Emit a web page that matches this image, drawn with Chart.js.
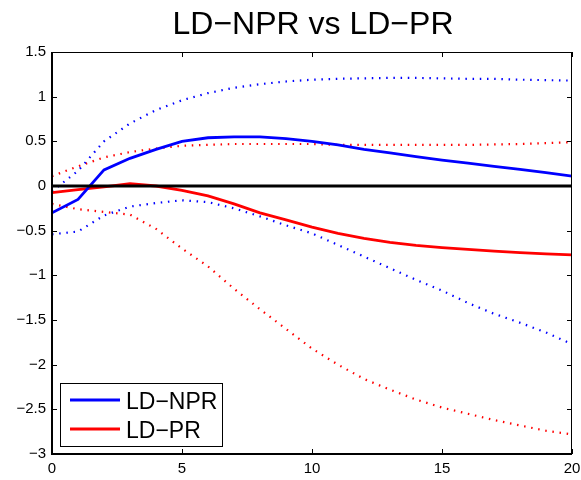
<!DOCTYPE html>
<html>
<head>
<meta charset="utf-8">
<script src="https://cdn.jsdelivr.net/npm/chart.js@4"></script>
<style>
  html, body { margin: 0; padding: 0; background: #fff; }
  #wrap { width: 581px; height: 480px; position: relative; }
</style>
</head>
<body>
<div id="wrap"><canvas id="irf"></canvas></div>
<script>
const TITLE = 'LD\u2212NPR vs LD\u2212PR';
const steps = [0, 1, 2, 3, 4, 5, 6, 7, 8, 9, 10, 11, 12, 13, 14, 15, 16, 17, 18, 19, 20];

// LD-NPR response with bands
const nprMid   = [-0.30, -0.15, 0.18, 0.31, 0.41, 0.50, 0.54, 0.55, 0.55, 0.53, 0.50, 0.46, 0.41, 0.37, 0.33, 0.29, 0.255, 0.22, 0.185, 0.15, 0.11];
const nprUpper = [-0.06, 0.17, 0.50, 0.70, 0.85, 0.96, 1.04, 1.10, 1.14, 1.17, 1.19, 1.20, 1.205, 1.21, 1.21, 1.205, 1.20, 1.20, 1.19, 1.185, 1.18];
const nprLower = [-0.54, -0.51, -0.33, -0.23, -0.19, -0.16, -0.18, -0.25, -0.34, -0.44, -0.53, -0.66, -0.79, -0.92, -1.05, -1.17, -1.31, -1.43, -1.53, -1.64, -1.77];

// LD-PR response with bands
const prMid   = [-0.075, -0.04, -0.01, 0.025, 0.0, -0.05, -0.11, -0.20, -0.30, -0.38, -0.46, -0.53, -0.585, -0.63, -0.665, -0.69, -0.71, -0.73, -0.745, -0.76, -0.77];
const prUpper = [0.11, 0.22, 0.32, 0.38, 0.42, 0.45, 0.46, 0.47, 0.47, 0.47, 0.47, 0.46, 0.46, 0.46, 0.46, 0.46, 0.46, 0.465, 0.47, 0.48, 0.49];
const prLower = [-0.20, -0.26, -0.29, -0.32, -0.48, -0.70, -0.90, -1.15, -1.38, -1.60, -1.82, -2.00, -2.16, -2.28, -2.39, -2.48, -2.55, -2.62, -2.68, -2.74, -2.78];

const zeroLine = [0, 0, 0, 0, 0, 0, 0, 0, 0, 0, 0, 0, 0, 0, 0, 0, 0, 0, 0, 0, 0];

const xTicks = [0, 5, 10, 15, 20];
const yTicks = [1.5, 1, 0.5, 0, -0.5, -1, -1.5, -2, -2.5, -3];

const FONT = "'Liberation Sans', Arial, Helvetica, sans-serif";
const BLUE = '#0000ff';
const RED = '#ff0000';

function pts(ys) {
    return steps.map((x, i) => ({ x: x, y: ys[i] }));
}

function solid(label, ys, color, width) {
    return { label, data: pts(ys), borderColor: color, borderWidth: width,
             pointRadius: 0, tension: 0, fill: false, showInLegend: true };
}

function dotted(ys, color) {
    return { label: '', data: pts(ys), borderColor: color, borderWidth: 2.2,
             borderDash: [1.5, 5.7], borderCapStyle: 'butt',
             pointRadius: 0, tension: 0, fill: false };
}

// Title centered over the axes, like matlab does
const axesTitle = {
    id: 'axesTitle',
    afterDraw(chart) {
        const { ctx, chartArea } = chart;
        ctx.save();
        ctx.fillStyle = '#000';
        ctx.font = `32px ${FONT}`;
        ctx.textAlign = 'center';
        ctx.textBaseline = 'alphabetic';
        ctx.fillText(TITLE, (chartArea.left + chartArea.right) / 2 + 1, 34);
        ctx.restore();
    }
};

// Box round the axes + inward tick marks on all four sides
const axesBox = {
    id: 'axesBox',
    afterDatasetsDraw(chart) {
        const { ctx, chartArea: a, scales } = chart;
        ctx.save();
        ctx.strokeStyle = '#000';
        ctx.lineWidth = 1;
        const len = 5;
        scales.x.ticks.forEach(t => {
            const px = Math.round(scales.x.getPixelForValue(t.value)) + 0.5;
            ctx.beginPath();
            ctx.moveTo(px, a.bottom); ctx.lineTo(px, a.bottom - len);
            ctx.moveTo(px, a.top); ctx.lineTo(px, a.top + len);
            ctx.stroke();
        });
        scales.y.ticks.forEach(t => {
            const py = Math.round(scales.y.getPixelForValue(t.value)) + 0.5;
            ctx.beginPath();
            ctx.moveTo(a.left, py); ctx.lineTo(a.left + len, py);
            ctx.moveTo(a.right, py); ctx.lineTo(a.right - len, py);
            ctx.stroke();
        });
        // top and right thin, left and bottom heavier
        ctx.beginPath();
        ctx.moveTo(a.left, a.top + 0.5); ctx.lineTo(a.right, a.top + 0.5);
        ctx.moveTo(a.right - 0.5, a.top); ctx.lineTo(a.right - 0.5, a.bottom);
        ctx.stroke();
        ctx.lineWidth = 2;
        ctx.beginPath();
        ctx.moveTo(a.left, a.top); ctx.lineTo(a.left, a.bottom);
        ctx.lineTo(a.right, a.bottom);
        ctx.stroke();
        ctx.restore();
    }
};

// Legend box inside the axes, lower left
const innerLegend = {
    id: 'innerLegend',
    afterDraw(chart) {
        const { ctx, chartArea: a } = chart;
        const items = chart.data.datasets.filter(d => d.showInLegend);
        const bx = a.left + 8.5, by = 383.5, bw = 162, bh = 63;
        ctx.save();
        ctx.fillStyle = '#fff';
        ctx.fillRect(bx, by, bw, bh);
        ctx.strokeStyle = '#000';
        ctx.lineWidth = 1;
        ctx.strokeRect(bx, by, bw, bh);
        ctx.font = `23px ${FONT}`;
        ctx.textBaseline = 'alphabetic';
        ctx.textAlign = 'left';
        items.forEach((d, i) => {
            const ly = 400 + i * 29;
            ctx.strokeStyle = d.borderColor;
            ctx.lineWidth = 3;
            ctx.beginPath();
            ctx.moveTo(bx + 9.5, ly); ctx.lineTo(bx + 59.5, ly);
            ctx.stroke();
            ctx.fillStyle = '#000';
            ctx.fillText(d.label, bx + 65.5, ly + 9);
        });
        ctx.restore();
    }
};

const minus = v => String(v).replace('-', '\u2212');

new Chart(document.getElementById('irf'), {
    type: 'line',
    data: {
        datasets: [
            { label: '', data: pts(zeroLine), borderColor: '#000', borderWidth: 3,
              pointRadius: 0, tension: 0, fill: false },
            solid('LD\u2212NPR', nprMid, BLUE, 2.8),
            solid('LD\u2212PR', prMid, RED, 2.8),
            dotted(nprUpper, BLUE),
            dotted(nprLower, BLUE),
            dotted(prUpper, RED),
            dotted(prLower, RED)
        ]
    },
    options: {
        responsive: true,
        maintainAspectRatio: false,
        animation: false,
        layout: { padding: { top: 52, right: 9, left: 0, bottom: 0 } },
        plugins: {
            legend: { display: false },
            title: { display: false },
            tooltip: { enabled: false }
        },
        scales: {
            x: {
                type: 'linear',
                min: 0, max: 20,
                afterBuildTicks: s => { s.ticks = xTicks.map(v => ({ value: v })); },
                afterFit: s => { s.height = 26; s.paddingLeft = 0; s.paddingRight = 0; },
                grid: { display: false, drawTicks: false },
                border: { display: false },
                ticks: { color: '#000', padding: 6, maxRotation: 0,
                         font: { family: FONT, size: 15 }, callback: minus }
            },
            y: {
                type: 'linear',
                min: -3, max: 1.5,
                afterBuildTicks: s => { s.ticks = yTicks.map(v => ({ value: v })); },
                afterFit: s => { s.width = 52; s.paddingTop = 0; s.paddingBottom = 0; },
                grid: { display: false, drawTicks: false },
                border: { display: false },
                ticks: { color: '#000', padding: 6,
                         font: { family: FONT, size: 15 }, callback: minus }
            }
        }
    },
    plugins: [axesTitle, axesBox, innerLegend]
});
</script>
</body>
</html>
